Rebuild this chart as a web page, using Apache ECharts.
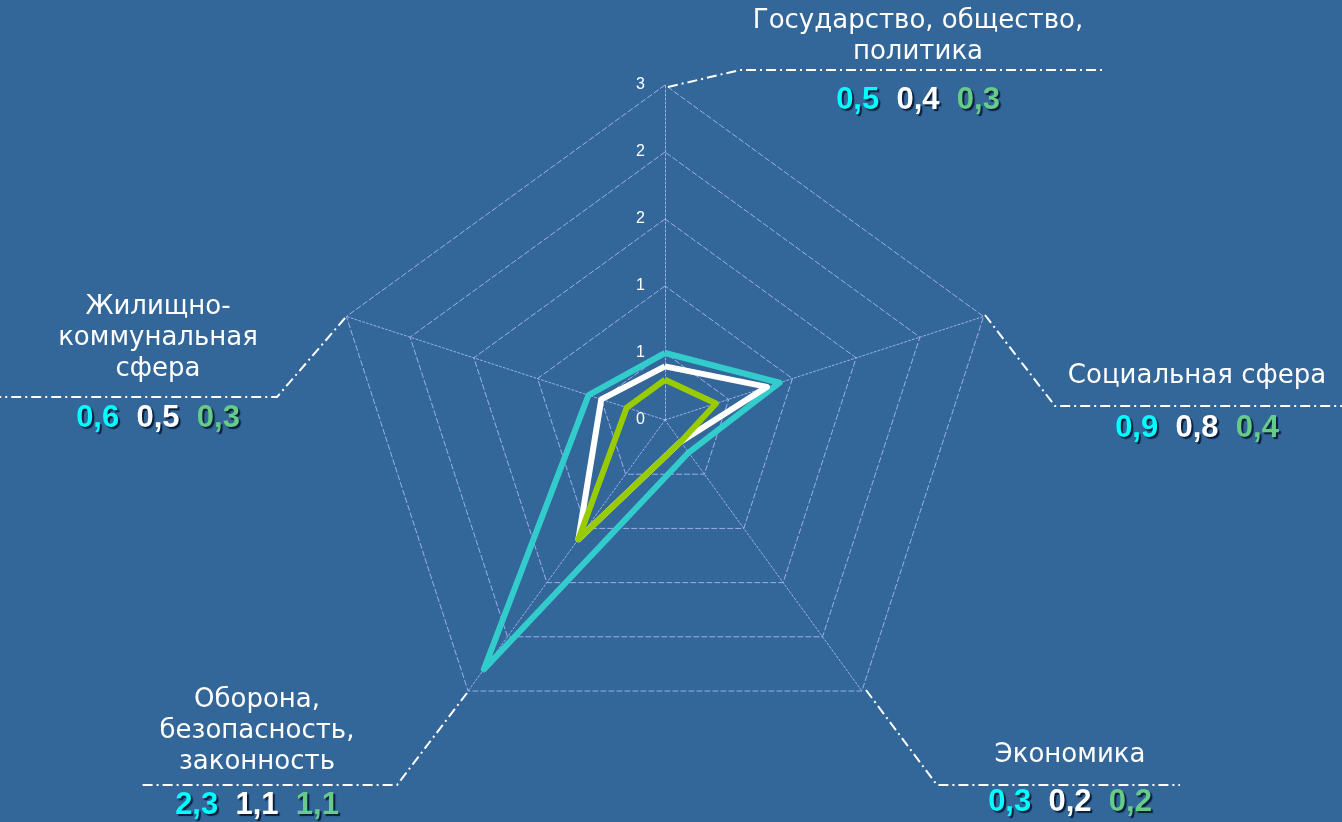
<!DOCTYPE html>
<html>
<head>
<meta charset="utf-8">
<script src="https://cdn.jsdelivr.net/npm/echarts@6/dist/echarts.min.js"></script>
<style>
  html, body { margin: 0; padding: 0; background: #336699; }
  #chart { width: 1342px; height: 822px; }
</style>
</head>
<body>
<div id="chart"></div>
<script>
// порядок осей — против часовой стрелки, как рисует ECharts
var indicators = ['Государство, общество,\nполитика', 'Жилищно-\nкоммунальная\nсфера', 'Оборона,\nбезопасность,\nзаконность', 'Экономика', 'Социальная сфера'];
var seriesCyan  = [0.5, 0.6, 2.3, 0.3, 0.9];
var seriesWhite = [0.4, 0.5, 1.1, 0.2, 0.8];
var seriesGreen = [0.3, 0.3, 1.1, 0.2, 0.4];
var axisMax = 2.5;

// позиции подписей осей (снаружи, с выносками)
var namePos = [
    { x: 918, y: 37, line: [[668, 87], [740, 70], [1102, 70]], vy: 100 },
    { x: 158, y: 338, line: [[345, 318], [277, 397], [0, 397]], vy: 418 },
    { x: 257, y: 731, line: [[467, 693], [397, 785], [140, 785]], vy: 805 },
    { x: 1070, y: 755, line: [[866, 690], [937, 785], [1180, 785]], vy: 802 },
    { x: 1197, y: 376, line: [[985, 315], [1055, 406], [1342, 406]], vy: 428 }
];

function fmt(v) { return String(v).replace('.', ','); }

function valStyle(color) {
    return {
        fill: color,
        fontSize: 31,
        fontWeight: 'bold',
        fontFamily: 'Liberation Sans',
        textShadowColor: '#0a1e3c',
        textShadowOffsetX: 2,
        textShadowOffsetY: 2,
        textShadowBlur: 1
    };
}

var graphics = [];
indicators.forEach(function (name, i) {
    var p = namePos[i];
    graphics.push({
        type: 'polyline',
        shape: { points: p.line },
        style: { stroke: '#ffffff', lineWidth: 2, lineDash: [10, 4, 2, 4], fill: null },
        z: 1
    });
    graphics.push({
        type: 'text',
        x: p.x, y: p.y,
        style: {
            text: name,
            fill: '#ffffff',
            font: '26px "DejaVu Sans"',
            lineHeight: 31,
            align: 'center',
            verticalAlign: 'middle'
        }
    });
    graphics.push({
        type: 'text',
        x: p.x, y: p.vy,
        style: {
            text: '{a|' + fmt(seriesCyan[i]) + '}  {b|' + fmt(seriesWhite[i]) + '}  {c|' + fmt(seriesGreen[i]) + '}',
            fontSize: 31,
            fontFamily: 'Liberation Sans',
            fontWeight: 'bold',
            align: 'center',
            verticalAlign: 'middle',
            rich: {
                a: valStyle('#00ffff'),
                b: valStyle('#ffffff'),
                c: valStyle('#66cc88')
            }
        }
    });
});

var tickLabel = {
    show: true,
    color: '#ffffff',
    fontSize: 16,
    fontFamily: 'Liberation Sans',
    margin: 20,
    formatter: function (v) { return Math.round(v); }
};

var myChart = echarts.init(document.getElementById('chart'));
myChart.setOption({
    backgroundColor: '#336699',
    animation: false,
    radar: {
        center: [665, 420],
        radius: 335,
        startAngle: 90,
        splitNumber: 5,
        shape: 'polygon',
        indicator: indicators.map(function (n, i) {
            return { name: n, min: 0, max: axisMax, axisLabel: i === 0 ? tickLabel : { show: false } };
        }),
        axisName: { show: false },
        splitArea: { show: false },
        splitLine: { lineStyle: { color: 'rgba(190,200,255,0.75)', width: 1, type: [6, 2] } },
        axisLine: { lineStyle: { color: 'rgba(190,200,255,0.75)', width: 1, type: [2, 2] } }
    },
    graphic: graphics,
    series: [{
        type: 'radar',
        symbol: 'none',
        data: [
            { value: seriesCyan, lineStyle: { color: '#33cccc', width: 6 } },
            { value: seriesWhite, lineStyle: { color: '#ffffff', width: 6 } },
            { value: seriesGreen, lineStyle: { color: '#99cc00', width: 6 } }
        ]
    }]
});
</script>
</body>
</html>
